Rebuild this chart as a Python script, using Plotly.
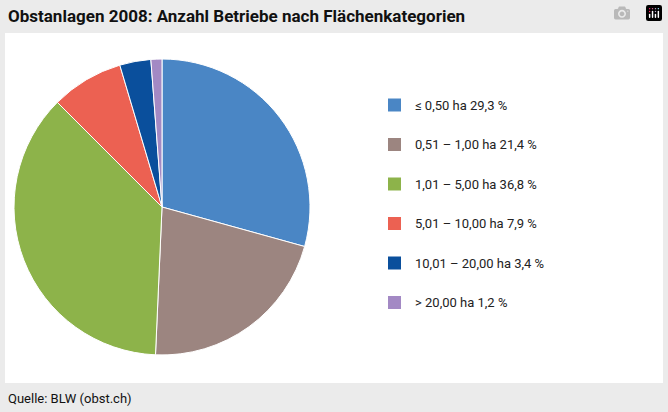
import plotly.graph_objects as go

labels = ["≤ 0,50 ha 29,3 %", "0,51 – 1,00 ha 21,4 %", "1,01 – 5,00 ha 36,8 %",
          "5,01 – 10,00 ha 7,9 %", "10,01 – 20,00 ha 3,4 %", "> 20,00 ha 1,2 %"]
values = [29.3, 21.4, 36.8, 7.9, 3.4, 1.2]
colors = ["#4a86c5", "#9c8580", "#8db34a", "#ec6152", "#0a4f9c", "#a389c4"]

W, H = 668, 412
FONT = "Liberation Sans Narrow, Roboto, sans-serif"

fig = go.Figure(go.Pie(
    labels=labels, values=values, sort=False, direction="clockwise", rotation=0,
    marker=dict(colors=colors, line=dict(color="white", width=1)),
    textinfo="none", hoverinfo="label", showlegend=False,
    domain=dict(x=[14 / W, 310 / W], y=[(H - 355) / H, (H - 59) / H]),
))

shapes = [dict(type="rect", xref="paper", yref="paper", x0=5 / W, x1=663 / W,
               y0=(H - 383) / H, y1=(H - 33) / H, fillcolor="white", line_width=0, layer="below")]
annotations = [
    dict(text="<b>Obstanlagen 2008: Anzahl Betriebe nach Flächenkategorien</b>", x=6 / W, y=(H - 16) / H,
         xref="paper", yref="paper", xanchor="left", yanchor="middle", showarrow=False,
         font=dict(family=FONT, size=17, color="#111")),
    dict(text="Quelle: BLW (obst.ch)", x=6 / W, y=(H - 398) / H, xref="paper", yref="paper",
         xanchor="left", yanchor="middle", showarrow=False, font=dict(family=FONT, size=13, color="#111")),
]
for i, (lab, col) in enumerate(zip(labels, colors)):
    yc = 105 + i * 39.5
    shapes.append(dict(type="rect", xref="paper", yref="paper", x0=388 / W, x1=401 / W,
                       y0=(H - yc - 6.5) / H, y1=(H - yc + 6.5) / H, fillcolor=col, line_width=0))
    annotations.append(dict(text=lab, x=413 / W, y=(H - yc) / H, xref="paper", yref="paper",
                            xanchor="left", yanchor="middle", showarrow=False,
                            font=dict(family=FONT, size=13, color="#222")))

fig.update_layout(width=W, height=H, margin=dict(l=0, r=0, t=0, b=0),
                  paper_bgcolor="#ebebeb", plot_bgcolor="#ebebeb",
                  shapes=shapes, annotations=annotations)
fig.write_html("out.html",
               post_script="document.body.style.margin='0';document.body.style.overflow='hidden';")
